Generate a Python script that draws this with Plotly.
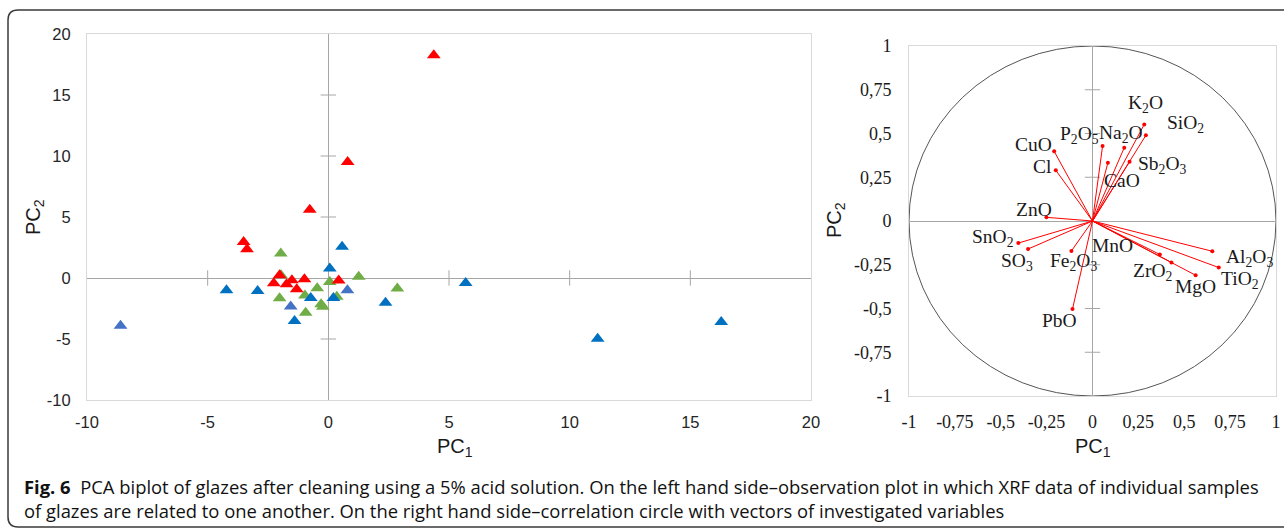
import plotly.graph_objects as go

W, H = 1284, 529

# ---------------- data: observation plot ----------------
red_x = [4.37, 0.80, -0.77, -3.51, -3.37, -2.02, -2.26, -1.73, -1.51, -1.31, -0.99, 0.43]
red_y = [18.26, 9.50, 5.60, 2.95, 2.35, 0.22, -0.43, -0.52, -0.19, -0.93, -0.11, -0.21]

green_x = [-1.97, -1.96, -2.02, -0.97, -0.46, -0.94, -0.30, -0.23, 0.06, 0.35, 1.26, 2.86]
green_y = [2.00, 0.22, -1.66, -1.44, -0.84, -2.84, -2.16, -2.35, -0.33, -1.53, 0.11, -0.87]

blue_x = [0.57, 0.06, -4.22, -2.93, -0.73, 0.21, -1.40, 2.37, 5.69, 11.16, 16.28]
blue_y = [2.57, 0.77, -1.01, -1.07, -1.64, -1.64, -3.52, -2.02, -0.41, -4.98, -3.60]

lblue_x = [-8.61, -1.56, 0.79]
lblue_y = [-3.91, -2.34, -1.01]

obs_ticks = [-10, -5, 0, 5, 10, 15, 20]
obs_ticktext = ["-10", "-5", "0", "5", "10", "15", "20"]
obs_axis_marks = [-5, 5, 10, 15]

# ---------------- data: correlation circle ----------------
var_names = ["K<sub>2</sub>O", "SiO<sub>2</sub>", "Na<sub>2</sub>O", "P<sub>2</sub>O<sub>5</sub>",
             "CaO", "Sb<sub>2</sub>O<sub>3</sub>", "CuO", "Cl", "ZnO", "SnO<sub>2</sub>",
             "SO<sub>3</sub>", "Fe<sub>2</sub>O<sub>3</sub>", "PbO", "MnO", "ZrO<sub>2</sub>",
             "MgO", "Al<sub>2</sub>O<sub>3</sub>", "TiO<sub>2</sub>"]
var_x = [0.282, 0.291, 0.173, 0.055, 0.084, 0.202, -0.209, -0.200, -0.251, -0.404,
         -0.351, -0.115, -0.109, 0.367, 0.430, 0.562, 0.653, 0.688]
var_y = [0.552, 0.490, 0.419, 0.429, 0.333, 0.339, 0.398, 0.290, 0.021, -0.126,
         -0.160, -0.171, -0.503, -0.191, -0.237, -0.310, -0.173, -0.266]

cor_ticks = [-1, -0.75, -0.5, -0.25, 0, 0.25, 0.5, 0.75, 1]
cor_ticktext = ["-1", "-0,75", "-0,5", "-0,25", "0", "0,25", "0,5", "0,75", "1"]
cor_axis_marks = [-0.75, -0.5, -0.25, 0.25, 0.5, 0.75]

caption_bold = "Fig. 6"
caption_l1 = ("PCA biplot of glazes after cleaning using a 5% acid solution. On the left hand side\u2013observation "
              "plot in which XRF data of individual samples")
caption_l2 = ("of glazes are related to one another. On the right hand side\u2013correlation circle with vectors "
              "of investigated variables")

# ---------------- styling (pixel layout) ----------------
def px_x(p):
    return p / W

def px_y(p):
    return 1 - p / H

SANS = "Liberation Sans, Arial, sans-serif"
SERIF = "Liberation Serif, Times New Roman, serif"
CAP = "Open Sans, Noto Sans, sans-serif"
TICKGRAY = "#a6a6a6"

# label offsets (pixels) for vector labels
lab_off = {
    "K<sub>2</sub>O": (1, -20), "SiO<sub>2</sub>": (40, -11), "Na<sub>2</sub>O": (-3, -14),
    "P<sub>2</sub>O<sub>5</sub>": (-23, -11), "CaO": (14, 18), "Sb<sub>2</sub>O<sub>3</sub>": (33, 3),
    "CuO": (-21, -7), "Cl": (-13, -4), "ZnO": (-12, -8), "SnO<sub>2</sub>": (-25, -5),
    "SO<sub>3</sub>": (-11, 13), "Fe<sub>2</sub>O<sub>3</sub>": (2, 11), "PbO": (-13, 11),
    "MnO": (-47, -9), "ZrO<sub>2</sub>": (-18, 10), "MgO": (0, 11),
    "Al<sub>2</sub>O<sub>3</sub>": (37, 7), "TiO<sub>2</sub>": (21, 12),
}

fig = go.Figure()

# axis tick marks on the zero lines (left plot)
fig.add_trace(go.Scatter(x=obs_axis_marks, y=[0] * len(obs_axis_marks), mode="markers",
                         marker=dict(symbol="line-ns-open", size=11, color=TICKGRAY,
                                     line=dict(color=TICKGRAY, width=1)),
                         xaxis="x", yaxis="y", hoverinfo="skip", showlegend=False))
fig.add_trace(go.Scatter(x=[0] * len(obs_axis_marks), y=obs_axis_marks, mode="markers",
                         marker=dict(symbol="line-ew-open", size=11, color=TICKGRAY,
                                     line=dict(color=TICKGRAY, width=1)),
                         xaxis="x", yaxis="y", hoverinfo="skip", showlegend=False))

series = [
    (green_x, green_y, "#70AD47"),
    (red_x, red_y, "#FF0000"),
    (blue_x, blue_y, "#0070C0"),
    (lblue_x, lblue_y, "#4472C4"),
]
for sx, sy, col in series:
    fig.add_trace(go.Scatter(x=sx, y=sy, mode="markers", xaxis="x", yaxis="y",
                             marker=dict(symbol="triangle-up", size=12, color=col, line=dict(width=0)),
                             showlegend=False))

# correlation circle ticks
fig.add_trace(go.Scatter(x=[0] * len(cor_axis_marks), y=cor_axis_marks, mode="markers",
                         marker=dict(symbol="line-ew-open", size=11, color=TICKGRAY,
                                     line=dict(color=TICKGRAY, width=1)),
                         xaxis="x2", yaxis="y2", hoverinfo="skip", showlegend=False))

# vectors
vx, vy = [], []
for a, b in zip(var_x, var_y):
    vx += [0, a, None]
    vy += [0, b, None]
fig.add_trace(go.Scatter(x=vx, y=vy, mode="lines", line=dict(color="#FF0000", width=1),
                         xaxis="x2", yaxis="y2", hoverinfo="skip", showlegend=False))
fig.add_trace(go.Scatter(x=var_x, y=var_y, mode="markers", marker=dict(color="#FF0000", size=4),
                         xaxis="x2", yaxis="y2", showlegend=False))

annotations = []
for name, a, b in zip(var_names, var_x, var_y):
    dx, dy = lab_off[name]
    annotations.append(dict(x=a, y=b, xref="x2", yref="y2", text=name, showarrow=False,
                            xanchor="center", yanchor="middle",
                            xshift=dx, yshift=-dy, font=dict(family=SERIF, size=19.5, color="#1a1a1a")))

# axis titles
title_font = dict(family=SANS, size=20, color="#1a1a1a")
centered = dict(xref="paper", yref="paper", showarrow=False, xanchor="center", yanchor="middle")
annotations += [
    dict(centered, x=px_x(35), y=px_y(217), text="PC<sub>2</sub>", textangle=-90, font=title_font),
    dict(centered, x=px_x(455), y=px_y(447), text="PC<sub>1</sub>", font=title_font),
    dict(centered, x=px_x(835), y=px_y(220), text="PC<sub>2</sub>", textangle=-90, font=title_font),
    dict(centered, x=px_x(1093), y=px_y(447), text="PC<sub>1</sub>", font=title_font),
    dict(x=px_x(22), y=px_y(486), xref="paper", yref="paper", xanchor="left", yanchor="middle",
         text="<b>" + caption_bold + "</b>  " + caption_l1, showarrow=False,
         font=dict(family=CAP, size=18.4, color="#111111")),
    dict(x=px_x(22), y=px_y(510), xref="paper", yref="paper", xanchor="left", yanchor="middle",
         text=caption_l2, showarrow=False,
         font=dict(family=CAP, size=18.4, color="#111111")),
]

# frame around the figure (rounded rectangle)
l, t, b = px_x(8), px_y(10), px_y(527)
rx, ry = 10 / W, 10 / H
r = 1.2
frame = (f"M {r},{t} L {l + rx},{t} Q {l},{t} {l},{t - ry} L {l},{b + ry} "
         f"Q {l},{b} {l + rx},{b} L {r},{b}")

shapes = [
    dict(type="path", path=frame, xref="paper", yref="paper", line=dict(color="#3a3a3a", width=1.5)),
    dict(type="circle", xref="x2", yref="y2", x0=-1, y0=-1, x1=1, y1=1,
         line=dict(color="#555555", width=1), layer="below"),
]

obs_axis = dict(showgrid=False, zeroline=True, zerolinecolor=TICKGRAY, zerolinewidth=1,
                showline=True, mirror=True, linecolor="#d9d9d9", linewidth=1, ticks="",
                automargin=False,
                tickfont=dict(family=SANS, size=16.5, color="#262626"),
                tickvals=obs_ticks, ticktext=obs_ticktext, range=[-10, 20], fixedrange=True)
cor_axis = dict(showgrid=False, zeroline=True, zerolinecolor=TICKGRAY, zerolinewidth=1,
                showline=True, mirror=True, linecolor="#d9d9d9", linewidth=1, ticks="",
                automargin=False,
                tickfont=dict(family=SERIF, size=18, color="#1a1a1a"),
                tickvals=cor_ticks, ticktext=cor_ticktext, range=[-1, 1], fixedrange=True)

fig.update_layout(
    width=W, height=H, margin=dict(l=0, r=0, t=0, b=0, pad=0, autoexpand=False),
    paper_bgcolor="white", plot_bgcolor="white", showlegend=False,
    xaxis=dict(obs_axis, domain=[px_x(87), px_x(811)], anchor="y", ticklabelstandoff=7),
    yaxis=dict(obs_axis, domain=[px_y(400), px_y(34)], anchor="x", ticklabelstandoff=12),
    xaxis2=dict(cor_axis, domain=[px_x(909), px_x(1276)], anchor="y2", ticklabelstandoff=9),
    yaxis2=dict(cor_axis, domain=[px_y(396), px_y(46)], anchor="x2", ticklabelstandoff=13),
    annotations=annotations, shapes=shapes,
)

fig.write_html("out.html")
